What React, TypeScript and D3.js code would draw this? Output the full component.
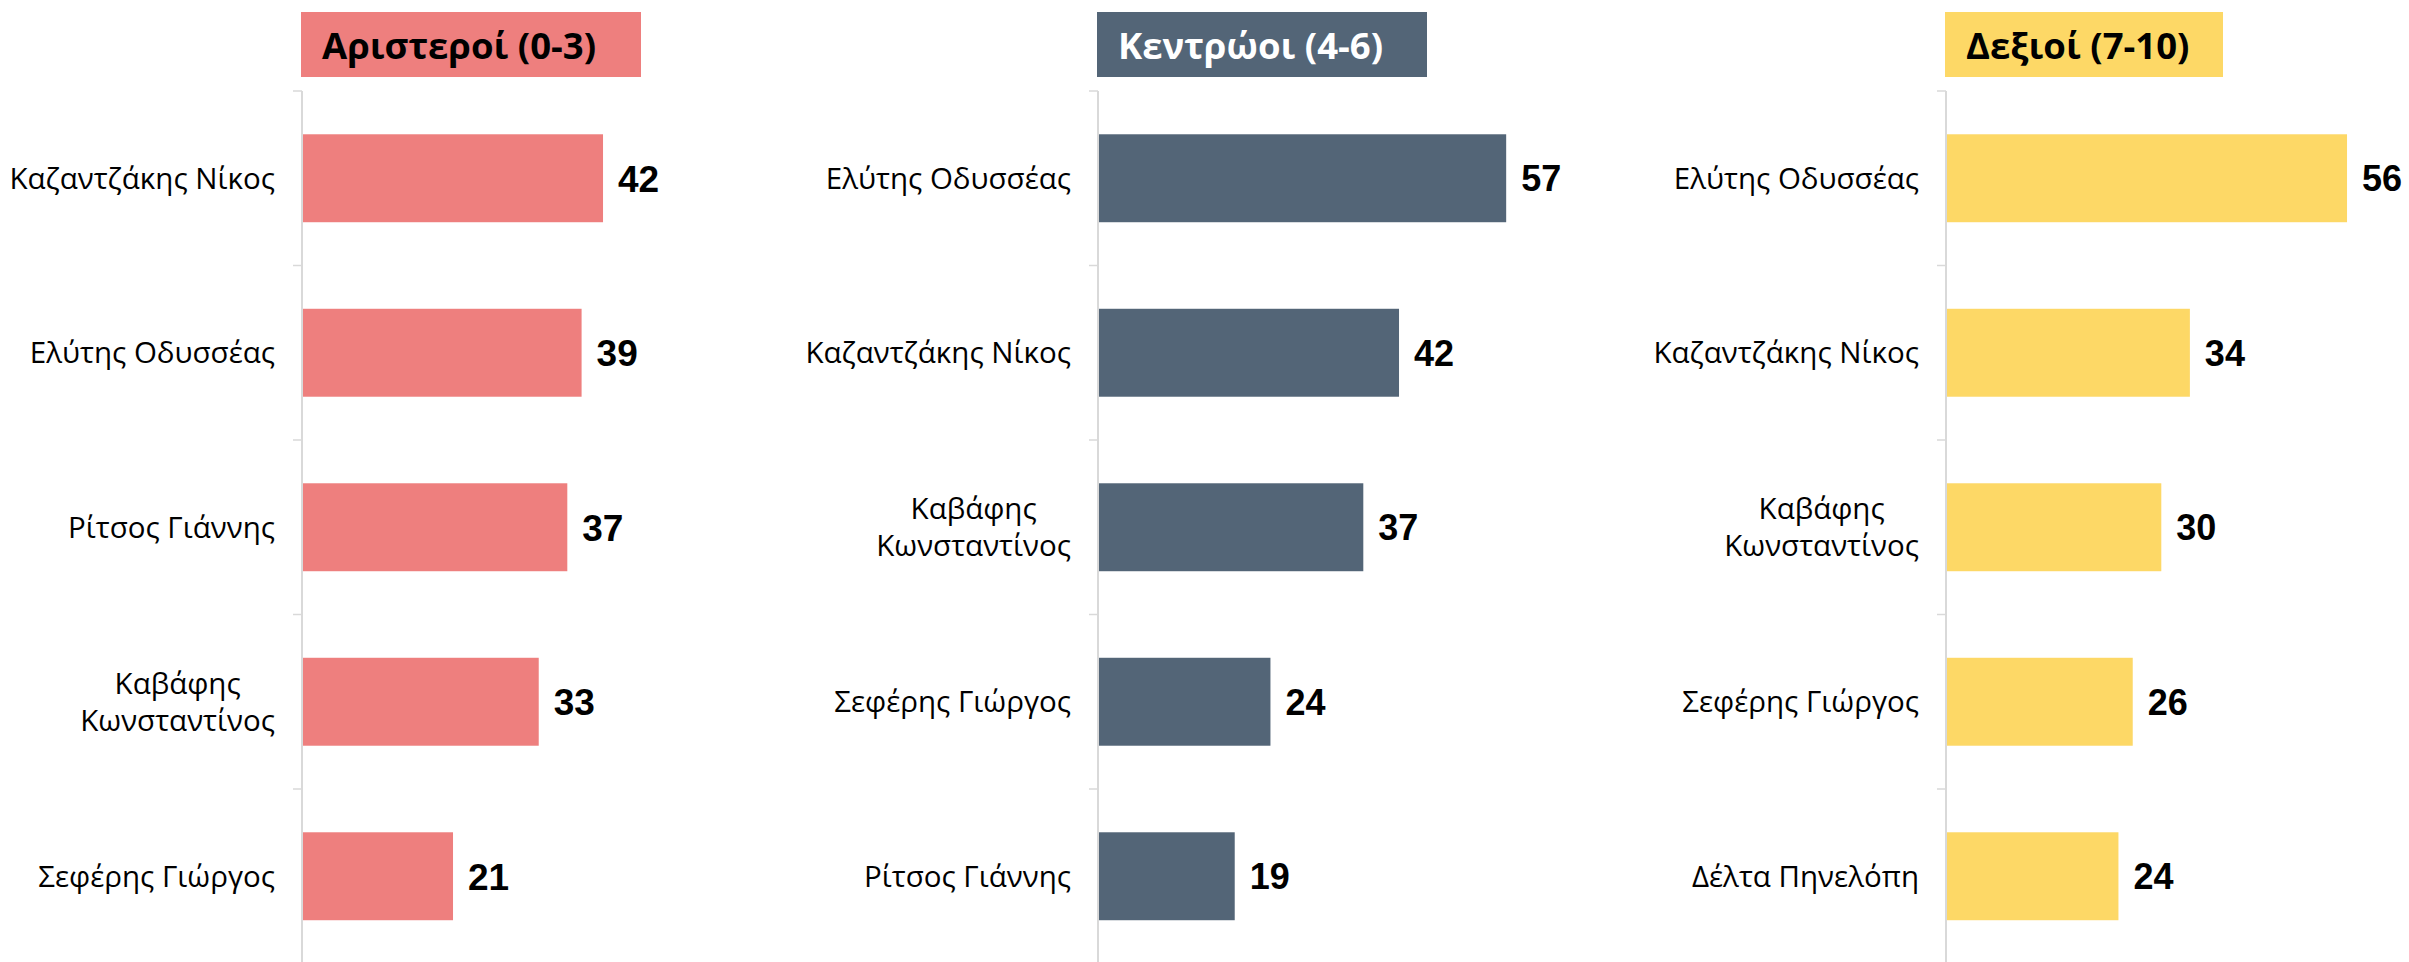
import React from "react";
import * as d3 from "d3";

const panelTitles = ["Αριστεροί (0-3)", "Κεντρώοι (4-6)", "Δεξιοί (7-10)"];

const leftCategories = ["Καζαντζάκης Νίκος", "Ελύτης Οδυσσέας", "Ρίτσος Γιάννης", "Καβάφης Κωνσταντίνος", "Σεφέρης Γιώργος"];
const leftValues = [42, 39, 37, 33, 21];

const centerCategories = ["Ελύτης Οδυσσέας", "Καζαντζάκης Νίκος", "Καβάφης Κωνσταντίνος", "Σεφέρης Γιώργος", "Ρίτσος Γιάννης"];
const centerValues = [57, 42, 37, 24, 19];

const rightCategories = ["Ελύτης Οδυσσέας", "Καζαντζάκης Νίκος", "Καβάφης Κωνσταντίνος", "Σεφέρης Γιώργος", "Δέλτα Πηνελόπη"];
const rightValues = [56, 34, 30, 26, 24];

const W = 2409;
const H = 962;

const panels = [
  { title: panelTitles[0], cats: leftCategories, vals: leftValues, axisX: 302, boxW: 340, color: "#EE7F7E", titleColor: "#000", valueFont: "'Liberation Sans Narrow', 'Liberation Sans', Arial, sans-serif", valueSize: 37 },
  { title: panelTitles[1], cats: centerCategories, vals: centerValues, axisX: 1098, boxW: 330, color: "#536577", titleColor: "#fff", valueFont: "'Liberation Sans', Arial, sans-serif", valueSize: 36 },
  { title: panelTitles[2], cats: rightCategories, vals: rightValues, axisX: 1946, boxW: 278, color: "#FDD866", titleColor: "#000", valueFont: "'Liberation Sans', Arial, sans-serif", valueSize: 36 },
];

const labelFont = "'Open Sans', 'Noto Sans', sans-serif";
const labelSize = 29.5;

function wrap(label: string): string[] {
  if (label.length > 18) {
    const i = label.indexOf(" ");
    return [label.slice(0, i), label.slice(i + 1)];
  }
  return [label];
}

function Panel({ p }: { p: typeof panels[0] }) {
  const y = d3.scaleBand<string>().domain(p.cats).range([91, 963.5]).paddingInner(0.496).paddingOuter(0.248);
  const x = d3.scaleLinear().domain([0, 60]).range([0, 428.6]);
  const step = y.step();
  const bounds = d3.range(p.cats.length + 1).map((i) => 91 + i * step);
  return (
    <g transform={`translate(${p.axisX},0)`}>
      <rect x={-1} y={12} width={p.boxW} height={65} fill={p.color} />
      <text x={20} y={59} fontFamily={labelFont} fontWeight={700} fontSize={36.5} fill={p.titleColor}>
        {p.title}
      </text>
      {bounds.map((b, i) => (
        <line key={i} x1={-9} x2={0} y1={b} y2={b} stroke="#d9d9d9" strokeWidth={1.5} />
      ))}
      <line x1={0} x2={0} y1={91} y2={H} stroke="#d9d9d9" strokeWidth={2} />
      {p.cats.map((c, i) => {
        const yc = (y(c) as number) + y.bandwidth() / 2;
        const lines = wrap(c);
        return (
          <g key={c}>
            <rect x={1} y={y(c)} width={x(p.vals[i])} height={y.bandwidth()} fill={p.color} />
            <text
              x={x(p.vals[i]) + 16}
              y={yc}
              dy="0.36em"
              fontFamily={p.valueFont}
              fontWeight={700}
              fontSize={p.valueSize}
              fill="#000"
            >
              {p.vals[i]}
            </text>
            {lines.length === 1 ? (
              <text x={-27} y={yc} dy="0.35em" textAnchor="end" fontFamily={labelFont} fontSize={labelSize} fill="#000">
                {c}
              </text>
            ) : (
              <WrappedLabel lines={lines} yc={yc} />
            )}
          </g>
        );
      })}
    </g>
  );
}

function WrappedLabel({ lines, yc }: { lines: string[]; yc: number }) {
  const ref = React.useRef<SVGGElement>(null);
  const [cx, setCx] = React.useState(-110);
  React.useEffect(() => {
    if (!ref.current) return;
    const texts = ref.current.querySelectorAll("text");
    let maxW = 0;
    texts.forEach((t) => {
      maxW = Math.max(maxW, (t as SVGTextElement).getComputedTextLength());
    });
    setCx(-27 - maxW / 2);
  }, []);
  return (
    <g ref={ref}>
      {lines.map((l, j) => (
        <text key={j} x={cx} y={yc + (j - (lines.length - 1) / 2) * 37} dy="0.35em" textAnchor="middle" fontFamily={labelFont} fontSize={labelSize} fill="#000">
          {l}
        </text>
      ))}
    </g>
  );
}

export default function App() {
  return (
    <svg width={W} height={H} style={{ position: "absolute", left: 0, top: 0, background: "#fff" }}>
      <rect width={W} height={H} fill="#fff" />
      {panels.map((p) => (
        <Panel key={p.title} p={p} />
      ))}
    </svg>
  );
}
